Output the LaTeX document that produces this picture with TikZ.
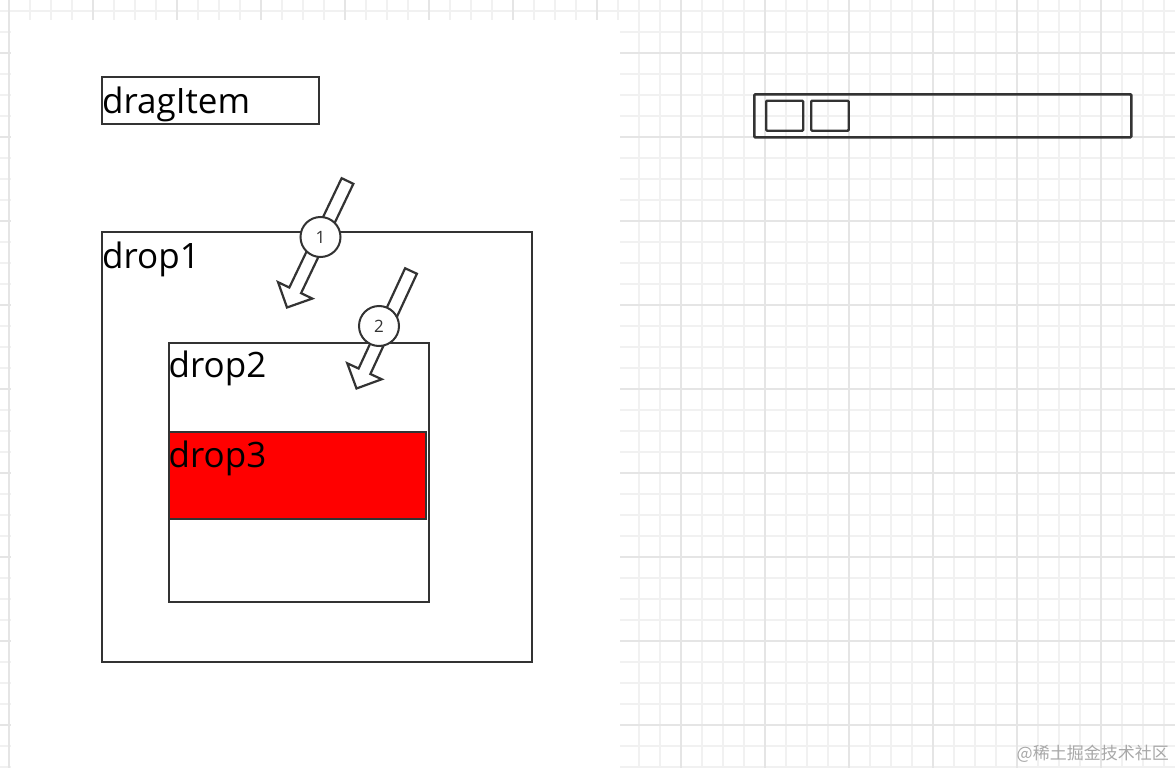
\documentclass[tikz,border=0pt]{standalone}
\usepackage{fontspec}
\setmainfont{Open Sans}
\newfontfamily\cjkfont{Noto Sans CJK SC}
\usetikzlibrary{calc}
\definecolor{gridminor}{HTML}{F1F1F1}
\definecolor{gridmajor}{HTML}{E5E5E5}
\definecolor{ink}{HTML}{333333}
\definecolor{wmgray}{HTML}{A8A8A8}
\begin{document}
\begin{tikzpicture}[x=1pt,y=-1pt,
  box/.style={draw=ink, line width=1.5pt, inner sep=0pt, anchor=north west},
  lbl/.style={anchor=base west, inner sep=0pt, font=\fontsize{35}{40}\selectfont, text=black},
  numcirc/.style={circle, draw=ink, line width=2pt, fill=white, minimum size=40pt, inner sep=0pt, font=\fontsize{17}{18}\selectfont, text=ink},
  blockarrow/.style={draw=ink, line width=2.2pt, fill=white, line join=miter},
  thickbox/.style={draw=ink, line width=2.6pt, inner sep=0pt, anchor=north west, rounded corners=1pt}]
\useasboundingbox (0,0) rectangle (1175,768);
\fill[white] (0,0) rectangle (1175,768);
% grid
\foreach \i in {0,...,55} \draw[gridminor, line width=1.3pt] ({9+21*\i},0) -- ({9+21*\i},768);
\foreach \i in {0,...,36} \draw[gridminor, line width=1.3pt] (0,{11+21*\i}) -- (1175,{11+21*\i});
\foreach \i in {0,...,13} \draw[gridmajor, line width=1.4pt] ({9+84*\i},0) -- ({9+84*\i},768);
\foreach \i in {0,...,8} \draw[gridmajor, line width=1.4pt] (0,{53+84*\i}) -- (1175,{53+84*\i});
% white panel
\fill[white] (10.7,20) rectangle (620,768);

% boxes
\node[box, minimum width=217pt, minimum height=47pt] (dragitem) at (101,76) {};
\node[lbl] (dragitemlbl) at (102,113) {dragItem};
\node[box, minimum width=430pt, minimum height=430pt] (drop1) at (101,231) {};
\node[lbl] (drop1lbl) at (102,268) {drop1};
\node[box, minimum width=260pt, minimum height=259pt] (drop2) at (168,342) {};
\node[lbl] (drop2lbl) at (168.5,377) {drop2};
\node[box, fill=red, minimum width=257pt, minimum height=87pt] (drop3) at (168,431) {};
\node[lbl] (drop3lbl) at (168.5,467) {drop3};

% right toolbar
\node[thickbox, minimum width=377pt, minimum height=43pt] (bar) at (753,93) {};
\node[thickbox, line width=2.4pt, minimum width=37pt, minimum height=30pt] (sq1) at (765,99.5) {};
\node[thickbox, line width=2.4pt, minimum width=37.5pt, minimum height=30pt] (sq2) at (810,99.5) {};

% block arrows
\coordinate (t1) at (347.5,181);
\coordinate (p1) at (287,307.5);
\coordinate (h1) at ($(p1)!19pt!(t1)$);
\draw[blockarrow] ($(t1)!6.5pt!90:(p1)$) -- ($(h1)!6.5pt!90:(p1)$) -- ($(h1)!19pt!90:(p1)$) -- (p1)
  -- ($(h1)!19pt!-90:(p1)$) -- ($(h1)!6.5pt!-90:(p1)$) -- ($(t1)!6.5pt!-90:(p1)$) -- cycle;
\coordinate (t2) at (411,271);
\coordinate (p2) at (356.5,388.5);
\coordinate (h2) at ($(p2)!19pt!(t2)$);
\draw[blockarrow] ($(t2)!6.5pt!90:(p2)$) -- ($(h2)!6.5pt!90:(p2)$) -- ($(h2)!19pt!90:(p2)$) -- (p2)
  -- ($(h2)!19pt!-90:(p2)$) -- ($(h2)!6.5pt!-90:(p2)$) -- ($(t2)!6.5pt!-90:(p2)$) -- cycle;

% numbered circles
\node[numcirc] (c1) at (320.5,237) {1};
\node[numcirc] (c2) at (379,326) {2};

% watermark
\node[anchor=base east, inner sep=0pt, font=\cjkfont\fontsize{17}{20}\selectfont, text=wmgray] (wm) at (1169,759) {@稀土掘金技术社区};
\end{tikzpicture}
\end{document}
